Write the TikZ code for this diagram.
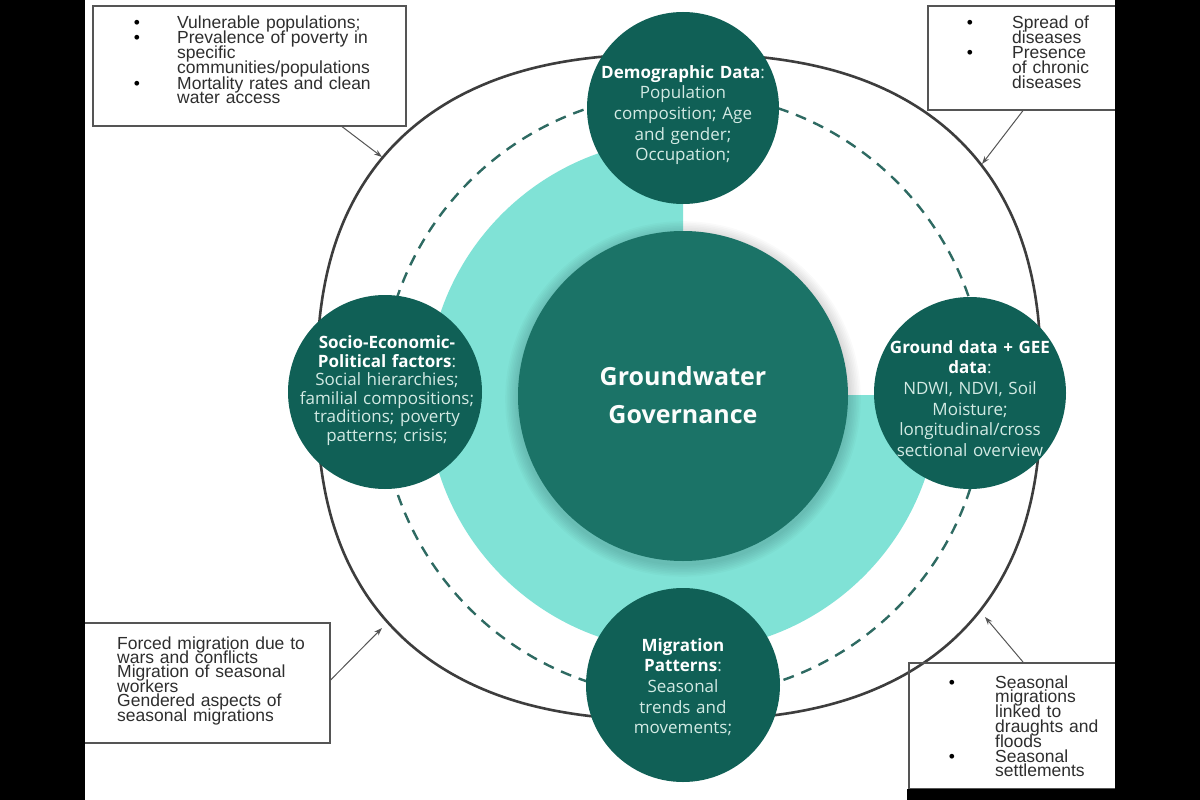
\documentclass[tikz,border=0pt]{standalone}
\usepackage{fontspec}
\setmainfont{Liberation Sans}
\newfontfamily\satf{Open Sans}
\usetikzlibrary{arrows.meta}
\definecolor{darkteal}{HTML}{106056}
\definecolor{midteal}{HTML}{1B7367}
\definecolor{lightteal}{HTML}{80E2D6}
\definecolor{ringgray}{HTML}{3D3D3D}
\definecolor{dashteal}{HTML}{2E6A62}
\definecolor{sattext}{HTML}{D3EAE4}
\definecolor{boxgray}{HTML}{555555}
\definecolor{boxtext}{HTML}{2E2E2E}
\lineskiplimit=-50pt
\begin{document}
\begin{tikzpicture}[x=1pt,y=-1pt,
 sat/.style={circle,fill=darkteal,inner sep=0pt,minimum size=#1},
 sattxt/.style={anchor=base,inner sep=0pt,text width=210pt,align=center,text=sattext,font={\satf\fontsize{17}{20.7}\selectfont}},
 infobox/.style={draw=boxgray,line width=1.6pt,anchor=north west,inner sep=0pt},
 boxtxt/.style={anchor=base west,inner sep=0pt,text width=#1,align=left,text=boxtext,font={\fontsize{17.5}{14.8}\selectfont\lineskiplimit=-50pt}},
 bul/.style={anchor=base,inner sep=0pt,text=black,font={\fontsize{17.5}{14.8}\selectfont}},
 pointer/.style={draw=boxgray,line width=1pt,-{Stealth[length=8pt,width=5.5pt]}},
 ring/.style={draw=ringgray,line width=2.6pt},
 dashring/.style={draw=dashteal,line width=2.4pt,dash pattern=on 11pt off 8pt}]
\useasboundingbox (0,0) rectangle (1200,800);
\fill[white] (0,0) rectangle (1200,800);
% light teal three-quarter disc
\fill[lightteal] (683,395) -- ++(256,0) arc[start angle=0,end angle=270,radius=256] -- cycle;
% outer ring (slightly squared circle)
\draw[ring] plot[domain=0.7:360.7,samples=241,smooth,variable=\t] ({679+362*sign(cos(\t))*abs(cos(\t))^0.8},{387+333*sign(sin(\t))*abs(sin(\t))^0.8}) -- cycle;
% dashed ring
\draw[dashring] (683,395) circle (302);
% halo of core
\foreach \i in {1,...,8} \fill[black,opacity=0.02] (683,399) circle (165+\i*1.6);
\node[circle,fill=midteal,minimum size=330pt,inner sep=0pt] (core) at (683,396) {};
\node[anchor=base,inner sep=0pt,text width=260pt,align=center,text=white!90!sattext,font={\satf\bfseries\fontsize{25}{38}\selectfont}] (coretxt) at (683,385) {Groundwater\\Governance};
% satellites
\node[sat=192pt] (demo) at (683,108) {};
\node[sat=194pt] (socio) at (385,392) {};
\node[sat=192pt] (ground) at (970,393) {};
\node[sat=194pt] (migr) at (683,685) {};
\node[sattxt] (tdemo) at (683,78) {{\bfseries\color{white}Demographic Data}:\\Population\\composition; Age\\and gender;\\Occupation;};
\node[sattxt,font={\satf\fontsize{17}{18.6}\selectfont}] (tsocio) at (387,348.5) {{\bfseries\color{white}Socio-Economic-}\\{\bfseries\color{white}Political factors}:\\Social hierarchies;\\familial compositions;\\traditions; poverty\\patterns; crisis;};
\node[sattxt] (tground) at (970,353) {{\bfseries\color{white}Ground data + GEE}\\{\bfseries\color{white}data}:\\NDWI, NDVI, Soil\\Moisture;\\longitudinal/cross\\sectional overview};
\node[sattxt] (tmigr) at (683,651) {{\bfseries\color{white}Migration}\\{\bfseries\color{white}Patterns}:\\Seasonal\\trends and\\movements;};
% boxes
\node[infobox,minimum width=313pt,minimum height=120pt] (b1) at (92,5) {};
\node[infobox,minimum width=203pt,minimum height=104pt] (b2) at (927,5) {};
\node[infobox,minimum width=249pt,minimum height=120pt] (b3) at (80,622) {};
\node[infobox,minimum width=222pt,minimum height=126pt] (b4) at (908,662) {};
% box 1 text
\node[bul] (b1d1) at (137,29) {•};
\node[boxtxt=230pt] (b1t1) at (177,29) {Vulnerable populations;};
\node[bul] (b1d2) at (137,44) {•};
\node[boxtxt=230pt] (b1t2) at (177,44) {Prevalence of poverty in\\specific\\communities/populations};
\node[bul] (b1d3) at (137,89) {•};
\node[boxtxt=230pt] (b1t3) at (177,89) {Mortality rates and clean\\water access};
% box 2 text
\node[bul] (b2d1) at (970,29) {•};
\node[boxtxt=120pt] (b2t1) at (1012,29) {Spread of\\diseases};
\node[bul] (b2d2) at (970,59) {•};
\node[boxtxt=120pt] (b2t2) at (1012,59) {Presence\\of chronic\\diseases};
% box 3 text
\node[boxtxt=230pt,font={\fontsize{17.5}{14.4}\selectfont\lineskiplimit=-50pt}] (b3t) at (117,649) {Forced migration due to\\wars and conflicts\\Migration of seasonal\\workers\\Gendered aspects of\\seasonal migrations};
% box 4 text
\node[bul] (b4d1) at (952,688) {•};
\node[boxtxt=140pt] (b4t1) at (995,688) {Seasonal\\migrations\\linked to\\draughts and\\floods};
\node[bul] (b4d2) at (952,762) {•};
\node[boxtxt=140pt] (b4t2) at (995,762) {Seasonal\\settlements};
% pointers
\coordinate (p1) at (382,157);
\coordinate (p2) at (982,164);
\coordinate (p3) at (382,628);
\coordinate (p4) at (985,617);
\draw[pointer] ([xshift=250pt]b1.south west) -- (p1);
\draw[pointer] ([xshift=96pt]b2.south west) -- (p2);
\draw[pointer] ([yshift=-58pt]b3.north east) -- (p3);
\draw[pointer] ([xshift=115pt]b4.north west) -- (p4);
% side bars
\fill[black] (0,0) rectangle (85,800);
\fill[black] (1115,0) rectangle (1200,800);
\fill[black] (907,789) rectangle (1115,800);
\end{tikzpicture}
\end{document}
